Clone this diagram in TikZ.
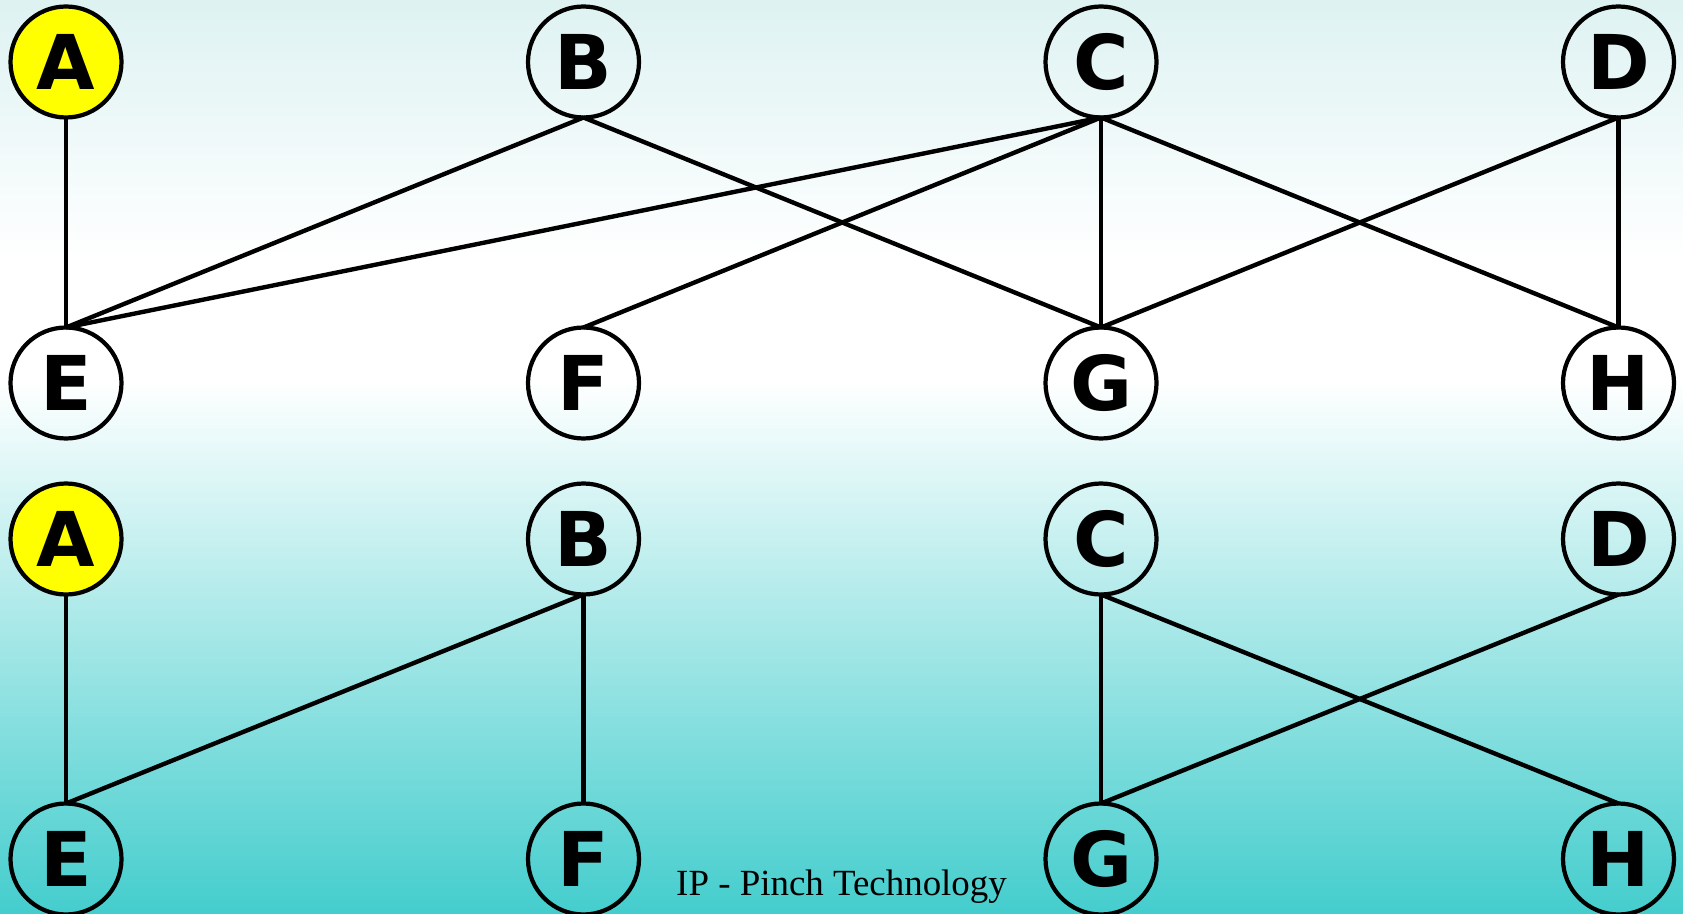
\documentclass[tikz,border=0pt]{standalone}
\usepackage{fontspec}
\newfontfamily\vertexfont{DejaVu Sans}
\newfontfamily\notefont{Liberation Serif}
\usetikzlibrary{positioning}
\definecolor{skytop}{RGB}{222,242,242}
\definecolor{seabottom}{RGB}{68,205,205}
\definecolor{marked}{RGB}{255,255,0}
\tikzset{
    pinch graph/.style = {line join=round},
    vertex/.style      = {draw, circle, line width=2.4pt, fill=white,
                          minimum size=2.22cm, inner sep=0pt, outer sep=0pt,
                          font=\vertexfont\bfseries\fontsize{43}{43}\selectfont},
    open/.style        = {fill=none},
    start/.style       = {fill=marked},
    edge/.style        = {line width=2.5pt},
    note/.style        = {font=\notefont\fontsize{21}{21}\selectfont,
                          anchor=base, inner sep=0pt}
}

\begin{document}
\begin{tikzpicture}[pinch graph]

% Background: pale top fading to white, a white band, then down to teal
\useasboundingbox (0,0) rectangle (33.66,-18.28);
\fill[white] (0,-5.2) rectangle (33.66,-7.6);
\shade[top color=skytop, bottom color=white] (0,0) rectangle (33.66,-5.2);
\shade[top color=white, bottom color=seabottom] (0,-7.6) rectangle (33.66,-18.28);

% Upper graph: sources on top, sinks below
\node[vertex, start] (a1) at (1.32,-1.24) {A};
\node[vertex, open, right=8.13cm of a1] (b1) {B};
\node[vertex, open, right=8.13cm of b1] (c1) {C};
\node[vertex, open, right=8.13cm of c1] (d1) {D};
\node[vertex, open, below=4.20cm of a1] (e1) {E};
\node[vertex, open, below=4.20cm of b1] (f1) {F};
\node[vertex, open, below=4.20cm of c1] (g1) {G};
\node[vertex, open, below=4.20cm of d1] (h1) {H};

\draw[edge] (a1.south) -- (e1.north);
\draw[edge] (b1.south) -- (e1.north);
\draw[edge] (b1.south) -- (g1.north);
\draw[edge] (c1.south) -- (e1.north);
\draw[edge] (c1.south) -- (f1.north);
\draw[edge] (c1.south) -- (g1.north);
\draw[edge] (c1.south) -- (h1.north);
\draw[edge] (d1.south) -- (g1.north);
\draw[edge] (d1.south) -- (h1.north);

% Lower graph: the pinched matching
\node[vertex, start, below=0.90cm of e1] (a2) {A};
\node[vertex, open, right=8.13cm of a2] (b2) {B};
\node[vertex, open, right=8.13cm of b2] (c2) {C};
\node[vertex, open, right=8.13cm of c2] (d2) {D};
\node[vertex, open, below=4.18cm of a2] (e2) {E};
\node[vertex, open, below=4.18cm of b2] (f2) {F};
\node[vertex, open, below=4.18cm of c2] (g2) {G};
\node[vertex, open, below=4.18cm of d2] (h2) {H};

\draw[edge] (a2.south) -- (e2.north);
\draw[edge] (b2.south) -- (e2.north);
\draw[edge] (b2.south) -- (f2.north);
\draw[edge] (c2.south) -- (g2.north);
\draw[edge] (c2.south) -- (h2.north);
\draw[edge] (d2.south) -- (g2.north);

% Footer caption
\node[note] (credit) at (16.83,-17.9) {IP - Pinch Technology};

\end{tikzpicture}
\end{document}
